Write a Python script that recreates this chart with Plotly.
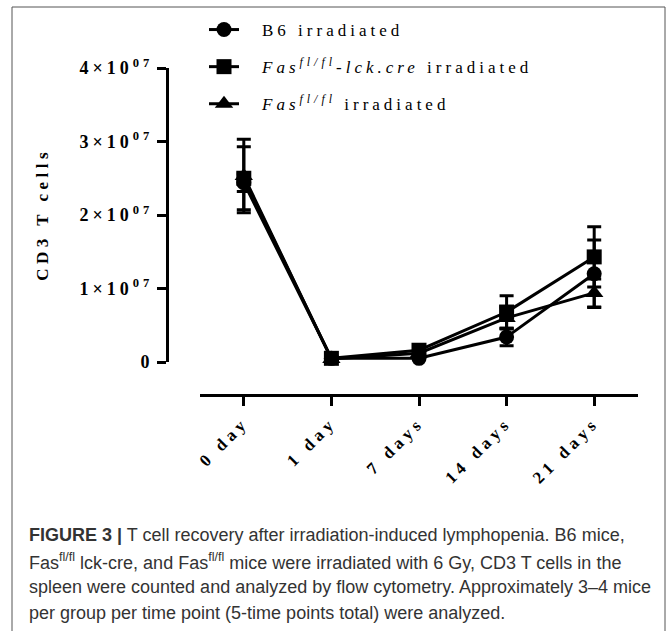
import plotly.graph_objects as go

# ---- data ----
categories = ["0 day", "1 day", "7 days", "14 days", "21 days"]
series_names = [
    "B6 irradiated",
    "<i>Fas<sup>fl/fl</sup>-lck.cre</i> irradiated",
    "<i>Fas<sup>fl/fl</sup></i> irradiated",
]
b6_vals = [2.44e7, 0.05e7, 0.05e7, 0.34e7, 1.20e7]
b6_err = [0.12e7, 0.01e7, 0.01e7, 0.12e7, 0.46e7]
lck_vals = [2.50e7, 0.05e7, 0.16e7, 0.68e7, 1.43e7]
lck_err = [0.43e7, 0.02e7, 0.03e7, 0.22e7, 0.41e7]
fas_vals = [2.53e7, 0.04e7, 0.12e7, 0.60e7, 0.94e7]
fas_err = [0.50e7, 0.01e7, 0.02e7, 0.15e7, 0.19e7]
y_tickvals = [0, 1e7, 2e7, 3e7, 4e7]
y_ticktext = ["0", "1×10<sup>07</sup>", "2×10<sup>07</sup>", "3×10<sup>07</sup>", "4×10<sup>07</sup>"]
y_title = "CD3 T cells"
caption_lines = [
    "<b>FIGURE 3 |</b> T cell recovery after irradiation-induced lymphopenia. B6 mice,",
    "Fas<sup>fl/fl</sup> lck-cre, and Fas<sup>fl/fl</sup> mice were irradiated with 6 Gy, CD3 T cells in the",
    "spleen were counted and analyzed by flow cytometry. Approximately 3–4 mice",
    "per group per time point (5-time points total) were analyzed.",
]

W, H = 667, 631
ML, MR, MT, MB = 167, 29, 68, 236
PW = W - ML - MR
PH = H - MT - MB


def X(px):
    return (px - ML) / PW


def Y(py):
    return (H - MB - py) / PH


serif = "Liberation Serif, Times New Roman, serif"
symbols = ["circle", "square", "triangle-up"]
sizes = [15, 15, 16]
vals = [b6_vals, lck_vals, fas_vals]
errs = [b6_err, lck_err, fas_err]
xs = list(range(len(categories)))

fig = go.Figure()
for i in range(3):
    fig.add_trace(go.Scatter(
        x=xs, y=vals[i], name=series_names[i], mode="lines+markers",
        legendgroup=str(i),
        line=dict(color="black", width=3),
        marker=dict(symbol=symbols[i], size=sizes[i], color="black"),
        error_y=dict(type="data", array=errs[i], visible=True,
                     color="black", thickness=3, width=7),
        cliponaxis=False,
    ))

fig.add_annotation(
    text=y_title, x=X(43), y=Y(214), xref="paper", yref="paper",
    textangle=-90, showarrow=False, xanchor="center", yanchor="middle",
    font=dict(family=serif, size=17, color="black", weight="bold"),
)

cap_y = [535, 561, 587, 613]
for t, py in zip(caption_lines, cap_y):
    fig.add_annotation(
        text=t, x=X(27), y=Y(py), xref="paper", yref="paper",
        showarrow=False, xanchor="left", yanchor="middle", align="left",
        font=dict(family="Liberation Sans, Arial, sans-serif", size=18, color="#333333"),
    )

# frame around the figure panel
fig.add_shape(type="rect", xref="paper", yref="paper",
              x0=X(12), x1=X(665), y0=Y(660), y1=Y(7),
              line=dict(color="#555555", width=1), layer="below")

fig.update_layout(
    width=W, height=H,
    font=dict(family=serif, size=17, color="black"),
    margin=dict(l=ML, r=MR, t=MT, b=MB, autoexpand=False),
    paper_bgcolor="white", plot_bgcolor="white",
    showlegend=True,
    legend=dict(x=X(204), y=Y(12), xanchor="left", yanchor="top",
                font=dict(family=serif, size=17, color="black"),
                tracegroupgap=12, itemwidth=30, bgcolor="rgba(0,0,0,0)"),
    xaxis=dict(
        domain=[X(200), 1], anchor="free", position=0,
        range=[-0.5, 4.5], tickvals=xs, ticktext=categories,
        tickangle=-45, showline=True, linecolor="black", linewidth=3,
        ticks="outside", ticklen=9, tickwidth=3, tickcolor="black",
        showgrid=False, zeroline=False,
        tickfont=dict(family=serif, size=17, color="black", weight="bold"),
    ),
    yaxis=dict(
        domain=[Y(362), 1], anchor="free", position=0,
        range=[0, 4e7], tickvals=y_tickvals, ticktext=y_ticktext,
        showline=True, linecolor="black", linewidth=3,
        ticks="outside", ticklen=9, tickwidth=3, tickcolor="black",
        showgrid=False, zeroline=False,
        tickfont=dict(family=serif, size=18, color="black", weight="bold"),
    ),
)

post = """
document.body.style.margin='0';
var gd=document.getElementById('{plot_id}');
function sp(sel, v){gd.querySelectorAll(sel).forEach(function(e){e.style.letterSpacing=v;});}
sp('.legendtext','4px');
sp('.ytick text','4px');
sp('.xtick text','4.5px');
sp('text[data-unformatted="CD3 T cells"]','4.5px');
gd.querySelectorAll('.legendtext').forEach(function(e){e.setAttribute('transform','translate(18,0)');});
gd.querySelectorAll('.legend [clip-path]').forEach(function(e){e.removeAttribute('clip-path');});
"""
fig.write_html("out.html", post_script=post, config={"displayModeBar": False})
